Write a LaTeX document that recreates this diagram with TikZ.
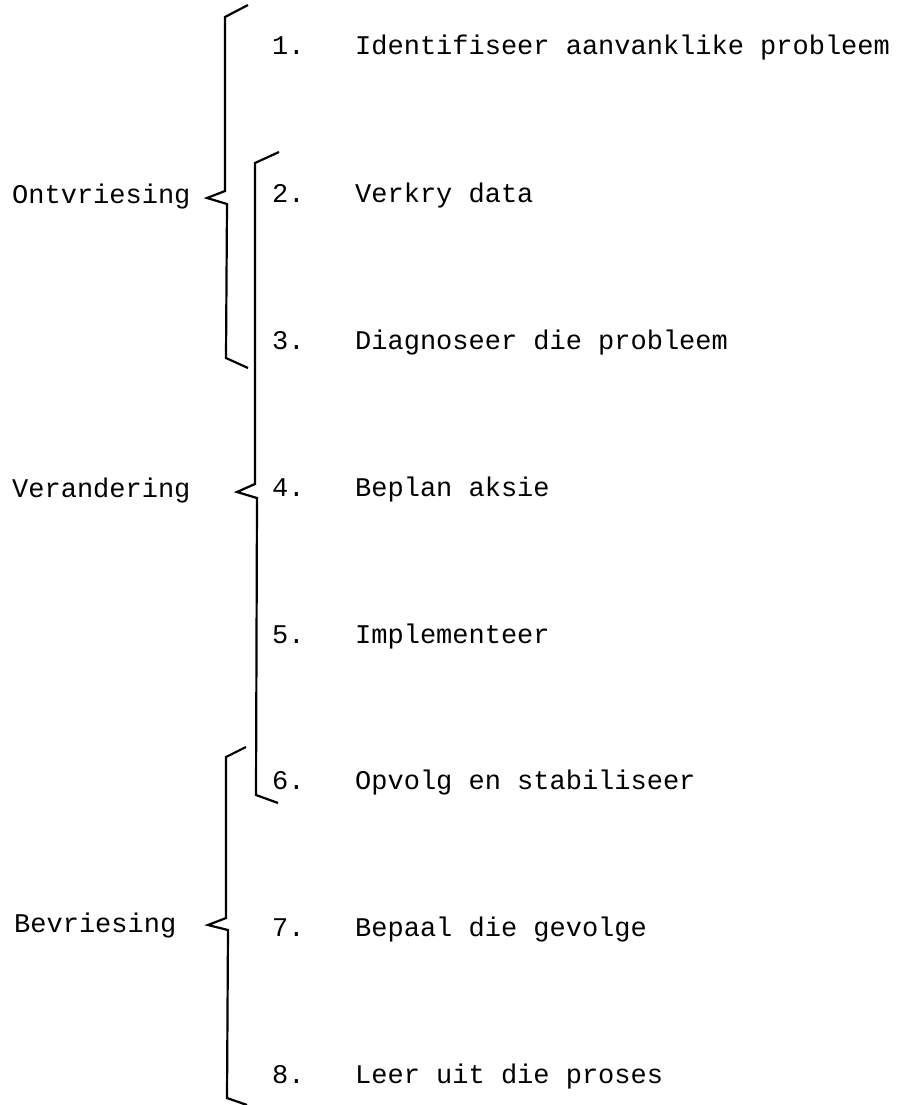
\documentclass[tikz,border=0pt]{standalone}
\usepackage{fontspec}
\newfontfamily\typewriter{Liberation Mono}
\usetikzlibrary{positioning}

\begin{document}
\begin{tikzpicture}[x=1pt, y=-1pt,
    every node/.style={font=\typewriter\fontsize{27}{30}\selectfont, anchor=base west, inner sep=0pt},
    brace/.style={line width=2.2pt, line join=miter}]
            \useasboundingbox (0,0) rectangle (897,1105);

            % Draw the steps
            \node (n1) at (272,55) {1.};
            \node (n2) at (272,202) {2.};
            \node (n3) at (272,349) {3.};
            \node (n4) at (272,496) {4.};
            \node (n5) at (272,643) {5.};
            \node (n6) at (272,789) {6.};
            \node (n7) at (272,936) {7.};
            \node (n8) at (272,1083) {8.};
            \node (t1) at (355,55) {Identifiseer aanvanklike probleem};
            \node (t2) at (355,202) {Verkry data};
            \node (t3) at (355,349) {Diagnoseer die probleem};
            \node (t4) at (355,496) {Beplan aksie};
            \node (t5) at (355,643) {Implementeer};
            \node (t6) at (355,789) {Opvolg en stabiliseer};
            \node (t7) at (355,936) {Bepaal die gevolge};
            \node (t8) at (355,1083) {Leer uit die proses};

            % Draw the phases
            \node (ontv) at (12,203) {Ontvriesing};
            \node (verand) at (12,497) {Verandering};
            \node (bevr) at (14,932) {Bevriesing};

            % Draw the braces
            \draw[brace] (248,5) -- (225,17) -- (225,191) -- (207,198) -- (227,204) -- (226,358) -- (248,368);
            \draw[brace] (279,152) -- (255,163) -- (255,484) -- (237,492) -- (257,498) -- (256,795) -- (278,803);
            \draw[brace] (246,747) -- (226,757) -- (226,918) -- (208,925) -- (228,930) -- (227,1098) -- (247,1105);
        \end{tikzpicture}
\end{document}
